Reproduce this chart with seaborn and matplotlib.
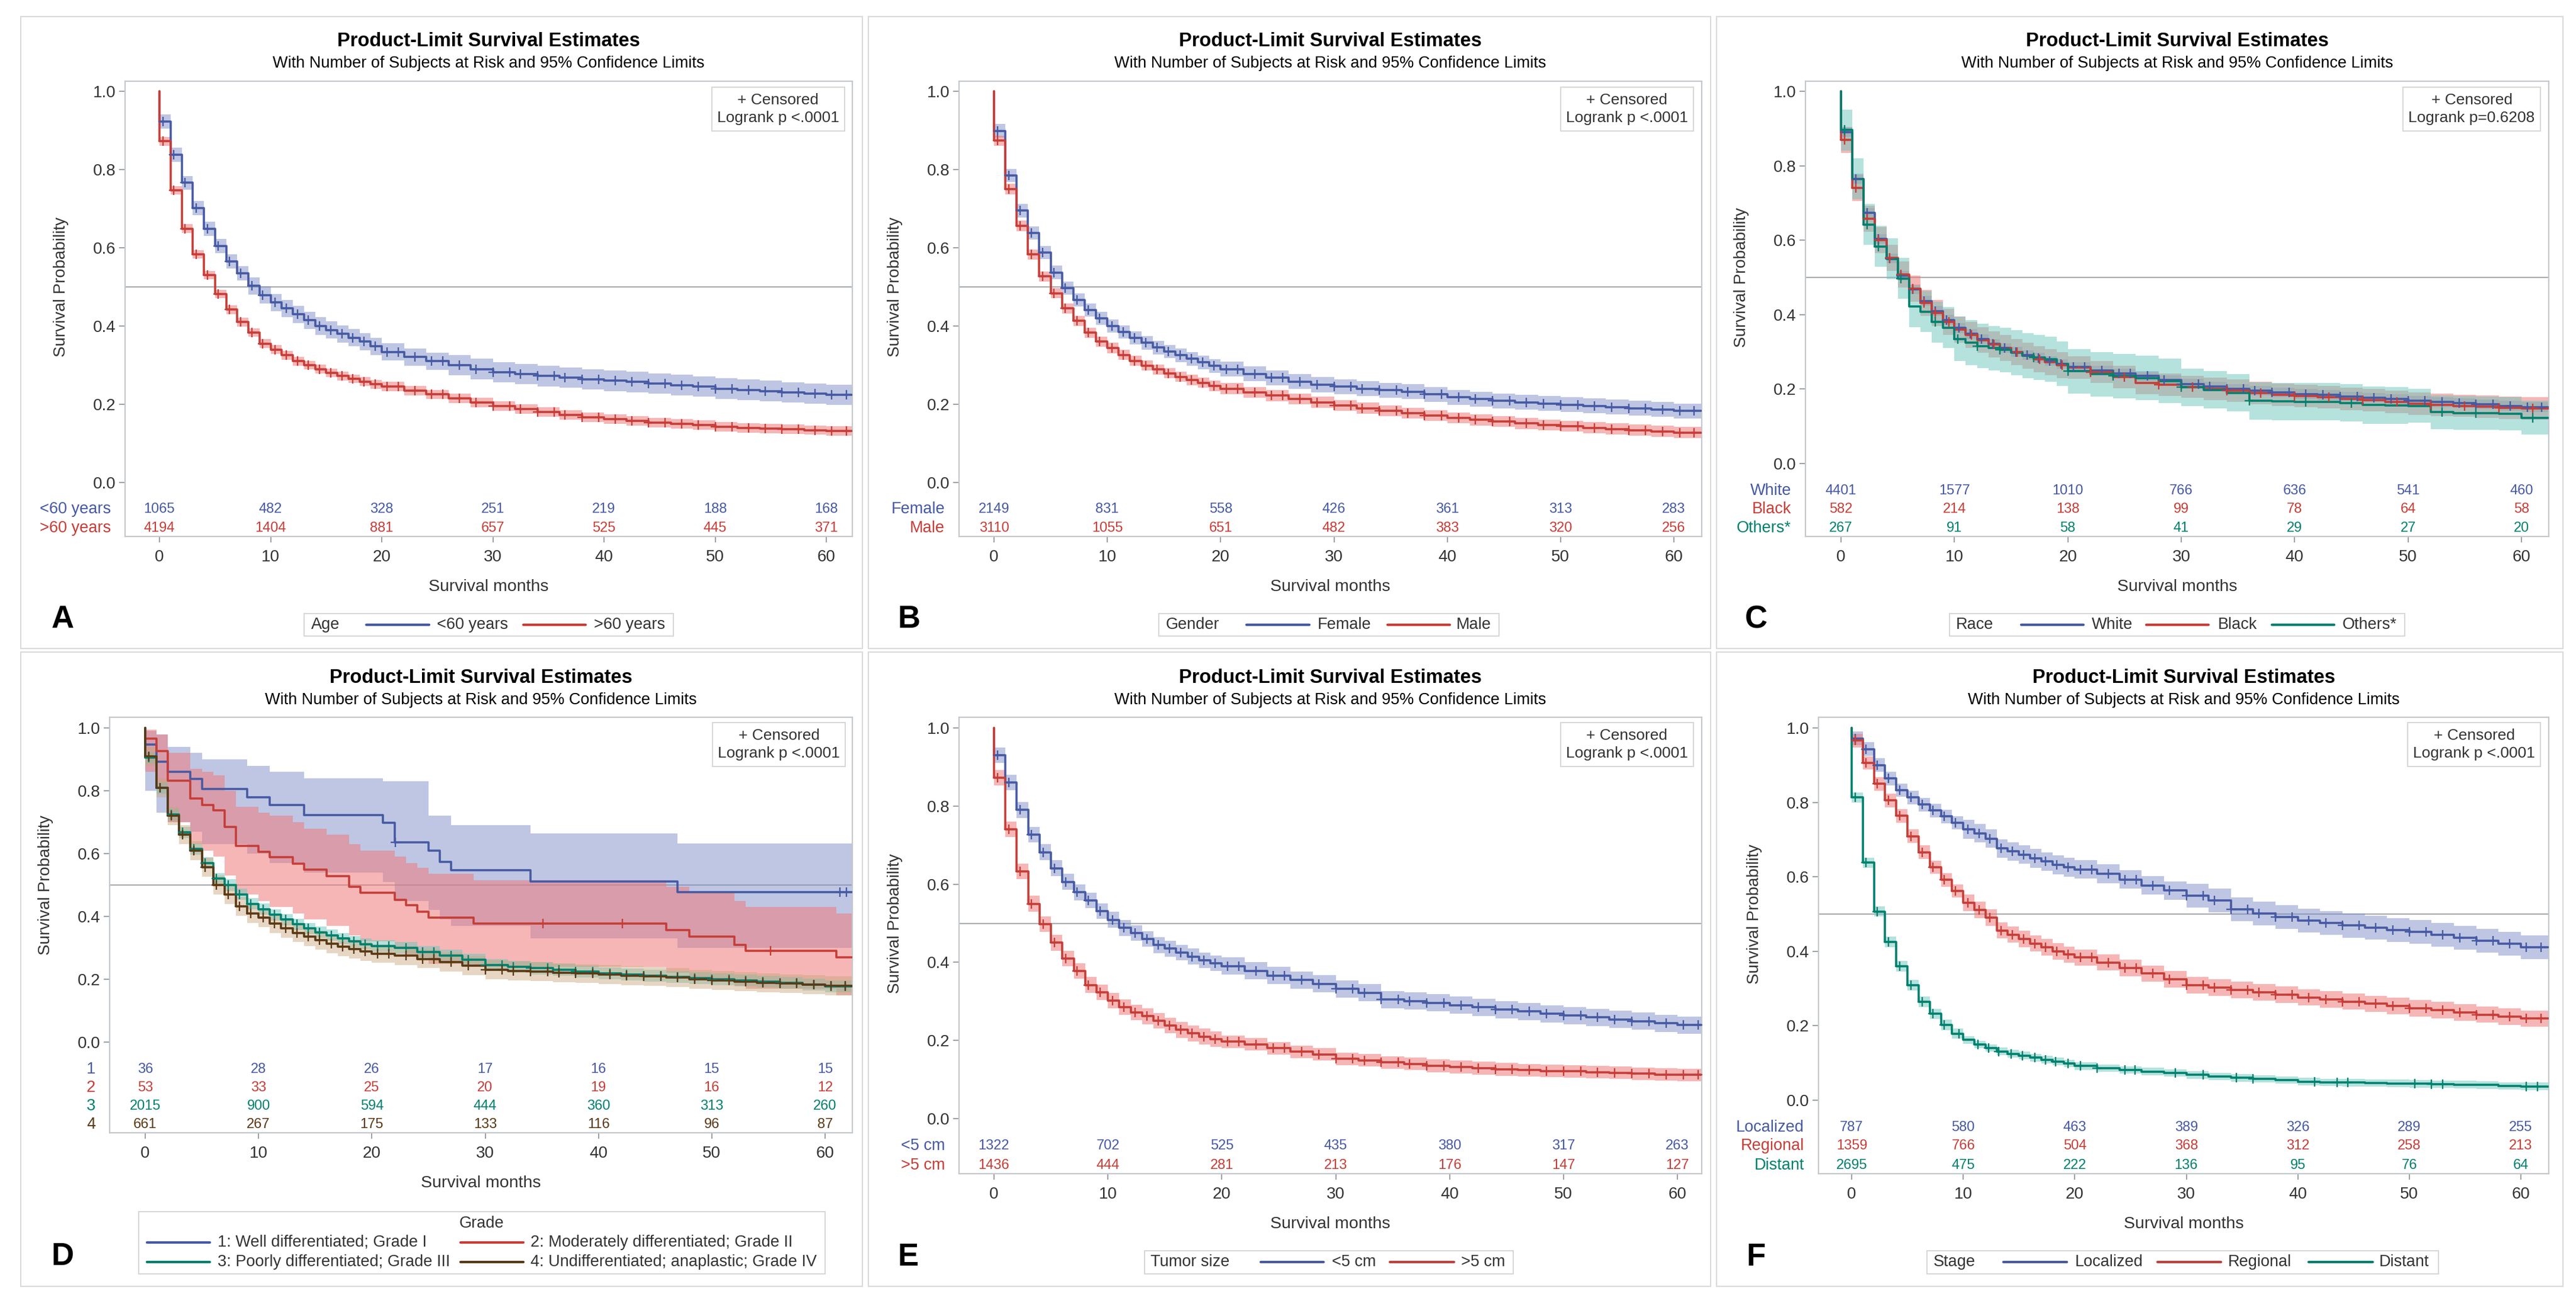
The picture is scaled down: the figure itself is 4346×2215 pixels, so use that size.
import numpy as np
import matplotlib
matplotlib.use("Agg")
import matplotlib.pyplot as plt
import seaborn as sns
from matplotlib.lines import Line2D
from matplotlib.patches import Rectangle

W, H = 4346, 2215

sns.set_style("white")
plt.rcParams["font.family"] = ["Liberation Sans", "DejaVu Sans"]

# ------------------------------------------------------------------
# Data
# ------------------------------------------------------------------
# survival months at which the step values below start
GRID = [0, 1, 2, 3, 4, 5, 6, 7, 8, 9, 10, 11, 12, 13, 14, 15, 16, 17, 18, 19, 20,
        22, 24, 26, 28, 30, 32, 34, 36, 38, 40, 42, 44, 46, 48, 50, 52, 54, 56, 58, 60]
RISK_T = [0, 10, 20, 30, 40, 50, 60]

# A - Age
A_lt60 = [.923, .838, .766, .702, .648, .605, .565, .535, .503, .479, .46, .445, .43, .415, .40, .39, .38, .37, .36, .348, .334,
          .321, .31, .30, .29, .282, .277, .272, .268, .264, .26, .257, .253, .249, .245, .24, .237, .234, .23, .227, .224]
A_gt60 = [.872, .747, .649, .583, .53, .482, .442, .41, .383, .355, .34, .325, .31, .30, .29, .28, .272, .265, .258, .251, .245,
          .235, .225, .215, .205, .195, .188, .18, .173, .167, .162, .157, .153, .15, .147, .143, .14, .138, .136, .134, .132]
A_risk_lt60 = [1065, 482, 328, 251, 219, 188, 168]
A_risk_gt60 = [4194, 1404, 881, 657, 525, 445, 371]

# B - Gender
B_female = [.899, .785, .695, .638, .588, .537, .497, .467, .441, .42, .40, .385, .37, .357, .345, .335, .325, .316, .307, .298, .29,
            .278, .268, .258, .25, .245, .24, .236, .232, .225, .218, .213, .209, .205, .202, .199, .196, .193, .19, .187, .183]
B_male = [.874, .75, .656, .583, .527, .484, .445, .413, .383, .36, .344, .326, .311, .299, .289, .279, .27, .262, .255, .247, .24,
          .23, .222, .214, .205, .197, .19, .183, .177, .171, .165, .16, .156, .151, .147, .144, .14, .137, .134, .131, .128]
B_risk_female = [2149, 831, 558, 426, 361, 313, 283]
B_risk_male = [3110, 1055, 651, 482, 383, 320, 256]

# C - Race
C_white = [.89, .765, .674, .603, .551, .505, .468, .437, .41, .386, .364, .348, .334, .321, .31, .30, .291, .284, .276, .268, .26,
           .25, .242, .235, .225, .214, .207, .201, .196, .191, .187, .184, .18, .177, .173, .169, .165, .162, .159, .155, .152]
C_black = [.869, .74, .657, .60, .553, .508, .469, .432, .405, .38, .36, .345, .332, .32, .31, .30, .29, .28, .272, .265, .258,
           .246, .232, .216, .212, .206, .201, .196, .19, .185, .181, .178, .174, .17, .166, .161, .158, .155, .153, .15, .148]
C_others = [.896, .765, .642, .583, .55, .497, .422, .408, .38, .365, .335, .325, .316, .31, .305, .298, .29, .285, .28, .268, .248,
            .24, .235, .23, .222, .205, .198, .19, .168, .167, .166, .166, .163, .157, .156, .155, .138, .136, .135, .134, .123]
C_risk_white = [4401, 1577, 1010, 766, 636, 541, 460]
C_risk_black = [582, 214, 138, 99, 78, 64, 58]
C_risk_others = [267, 91, 58, 41, 29, 27, 20]

# D - Grade (grades 1 and 2 have their own event times and wide limits)
D_g1_t = [0, 1, 2, 4, 5, 9, 11, 14, 21, 22, 25, 26, 27, 34, 47]
D_g1 = [.947, .892, .86, .838, .805, .779, .755, .723, .699, .636, .609, .573, .547, .511, .478]
D_g1_lo = [.80, .73, .70, .67, .63, .60, .57, .54, .51, .45, .42, .39, .37, .33, .30]
D_g1_hi = [.99, .98, .94, .92, .90, .88, .86, .84, .83, .83, .72, .72, .69, .665, .633]
D_g2_t = [0, 1, 2, 4, 5, 6, 7, 8, 10, 11, 13, 14, 16, 18, 19, 22, 23, 24, 25, 29, 46, 48, 52, 53, 61]
D_g2 = [.966, .926, .833, .775, .755, .738, .684, .625, .605, .589, .567, .55, .528, .495, .475, .453, .435, .415, .397, .377,
        .357, .335, .309, .29, .27]
D_g2_lo = [.86, .81, .70, .63, .61, .59, .53, .47, .45, .43, .41, .39, .37, .34, .32, .30, .28, .27, .25, .24, .22, .20, .18, .17, .15]
D_g2_hi = [.995, .98, .92, .87, .86, .85, .80, .75, .73, .72, .70, .68, .66, .63, .61, .59, .57, .555, .535, .515, .495, .475,
           .45, .43, .41]
D_g3 = [.905, .809, .725, .667, .615, .57, .52, .50, .47, .44, .423, .405, .39, .375, .362, .35, .34, .33, .32, .312, .305,
        .30, .287, .276, .263, .245, .24, .235, .23, .225, .219, .215, .211, .207, .203, .20, .196, .192, .188, .183, .178]
D_g4 = [.91, .81, .72, .66, .61, .557, .50, .47, .432, .409, .396, .378, .362, .348, .335, .324, .313, .304, .296, .288, .282,
        .275, .265, .255, .243, .23, .227, .224, .221, .218, .215, .212, .209, .205, .20, .196, .192, .189, .186, .183, .18]
D_risk_g1 = [36, 28, 26, 17, 16, 15, 15]
D_risk_g2 = [53, 33, 25, 20, 19, 16, 12]
D_risk_g3 = [2015, 900, 594, 444, 360, 313, 260]
D_risk_g4 = [661, 267, 175, 133, 116, 96, 87]

# E - Tumor size
E_lt5 = [.93, .86, .79, .727, .682, .641, .606, .579, .558, .531, .509, .488, .475, .46, .444, .435, .425, .415, .405, .398, .39,
         .378, .366, .355, .345, .332, .322, .305, .301, .296, .29, .285, .279, .274, .268, .264, .259, .254, .249, .244, .239]
E_gt5 = [.873, .741, .633, .55, .498, .45, .41, .378, .342, .323, .302, .285, .272, .262, .25, .238, .227, .218, .21, .203, .197,
         .19, .18, .171, .164, .153, .149, .144, .14, .135, .132, .129, .126, .124, .122, .121, .119, .117, .115, .113, .112]
E_risk_lt5 = [1322, 702, 525, 435, 380, 317, 263]
E_risk_gt5 = [1436, 444, 281, 213, 176, 147, 127]

# F - Stage
F_loc = [.972, .943, .90, .864, .833, .813, .794, .778, .762, .745, .728, .717, .703, .676, .668, .66, .65, .641, .632, .626, .62,
         .608, .593, .577, .563, .549, .536, .513, .502, .492, .482, .476, .469, .463, .457, .452, .444, .436, .428, .42, .411]
F_reg = [.966, .906, .85, .805, .764, .709, .666, .626, .592, .562, .53, .511, .49, .456, .445, .433, .421, .411, .40, .391, .383,
         .37, .355, .34, .325, .309, .303, .296, .29, .283, .276, .271, .265, .259, .253, .247, .242, .236, .23, .225, .219]
F_dist = [.813, .638, .507, .425, .36, .309, .264, .232, .202, .179, .162, .15, .14, .131, .125, .12, .114, .109, .104, .099, .092,
          .086, .081, .077, .073, .068, .064, .06, .057, .054, .05, .048, .047, .046, .045, .044, .043, .042, .041, .038, .037]
F_risk_loc = [787, 580, 463, 389, 326, 289, 255]
F_risk_reg = [1359, 766, 504, 368, 312, 258, 213]
F_risk_dist = [2695, 475, 222, 136, 95, 76, 64]

# half width of the 95% band, as (from month, width) steps
ci_A1 = [(0, .018), (8, .022), (25, .026)]
ci_A2 = [(0, .011), (20, .012)]
ci_B1 = [(0, .017), (20, .019)]
ci_B2 = [(0, .013), (20, .014)]
ci_C1 = [(0, .013)]
ci_C2 = [(0, .035), (20, .03)]
ci_C3 = [(0, .055), (10, .06), (30, .05), (50, .045)]
ci_D3 = [(0, .018), (20, .019)]
ci_D4 = [(0, .03)]
ci_E1 = [(0, .02), (20, .022)]
ci_E2 = [(0, .02), (20, .016)]
ci_F1 = [(0, .018), (10, .025), (30, .032)]
ci_F2 = [(0, .018), (10, .022)]
ci_F3 = [(0, .014), (10, .01)]

# censoring times (months)
cens_dense = [0.3, 1.3, 2.3, 3.3, 4.3, 5.3, 6.3, 7.3, 8.3, 9.3, 10.4, 11.4, 12.4, 13.4, 14.4, 15.4, 16.4, 17.4, 18.4,
              19.4, 20.5, 21.5, 23, 24.5, 25.5, 27, 28.5, 30, 31.5, 32.5, 34, 35.5, 36.5, 38, 39.5, 41, 42.5, 44,
              45.5, 47, 48.5, 50, 51.5, 53, 54.5, 56, 57.5, 59, 60.5, 61.8]
cens_mid = [0.3, 1.3, 2.3, 3.3, 4.3, 5.3, 6.3, 7.3, 8.3, 9.5, 11.5, 13.5, 15.5, 17.5, 19.5, 22, 25, 28, 31, 34, 37,
            40, 43, 46, 49, 52, 55, 58, 61]
cens_C3 = [0.3, 2.3, 3.3, 5.3, 8.3, 10.3, 12, 14, 17, 20, 24, 30, 36, 41, 45, 53, 56, 61]
cens_D1 = [22.1, 61.3, 61.9]
cens_D2 = [35.1, 42.1, 55.2]
cens_F3 = [0.3, 1.3, 2.3, 3.3, 4.3, 5.3, 6.3, 7.3, 8.3, 9.6, 11.3, 12.3, 13.2, 14.3, 15.3, 16.4, 17.4, 18.3,
           19.4, 20.5, 22, 24.5, 25.4, 29, 31.5, 34.5, 36, 41.5, 43.5, 44.5, 50.5, 52, 53, 60.5, 61.5]

# ------------------------------------------------------------------
# Styles
# ------------------------------------------------------------------
COL = {"blue": "#4659a3", "red": "#c63d37", "teal": "#00806e", "brown": "#5b3814"}
FILL = {"blue": ("#7f8fc8", .5), "red": ("#ef7b7b", .55), "teal": ("#6cc6bd", .5), "brown": ("#c9a57a", .45)}
GRAY = "#c4c8cc"
TXT = "#333333"

fig = plt.figure(figsize=(W / 100, H / 100), dpi=100)


def fx(px):
    return px / W


def fy(py):
    return 1 - py / H


def step_at(times, vals, t):
    i = np.searchsorted(times, t, side="right") - 1
    return np.asarray(vals)[np.clip(i, 0, None)]


def curve(times, surv, color, censor, risk, label, ci=None, lo=None, hi=None):
    return dict(times=times, surv=surv, color=color, censor=censor, risk=risk,
                label=label, ci=ci, lo=lo, hi=hi)


def draw_panel(p):
    left, top, right, bottom = p["box"]
    ax = fig.add_axes([fx(left), fy(bottom), (right - left) / W, (bottom - top) / H])
    x0, x60, y1, y0 = p["x0"], p["x60"], p["y1"], p["y0"]
    tx = lambda px: (px - x0) / (x60 - x0) * 60
    vy = lambda py: (y0 - py) / (y0 - y1)
    ax.set_xlim(tx(left), tx(right))
    ax.set_ylim(vy(bottom), vy(top))
    t_end = tx(right) - 0.05

    ax.axhline(0.5, color="#a9adb1", lw=1.6, zorder=1)

    for c in p["curves"]:
        times = np.asarray(c["times"], float)
        surv = np.asarray(c["surv"], float)
        bx = np.append(times, t_end)
        if c["ci"] is not None:
            st = [s[0] for s in c["ci"]]
            sw = [s[1] for s in c["ci"]]
            w = step_at(st, sw, times)
            lo, hi = surv - w, surv + w
        else:
            lo, hi = np.asarray(c["lo"]), np.asarray(c["hi"])
        fc, al = FILL[c["color"]]
        ax.fill_between(bx, np.append(lo, lo[-1]), np.append(hi, hi[-1]), step="post",
                        color=fc, alpha=al, lw=0, zorder=2)

    for c in p["curves"]:
        times = np.asarray(c["times"], float)
        surv = np.asarray(c["surv"], float)
        xs = np.concatenate([[0.0], times, [t_end]])
        ys = np.concatenate([[1.0], surv, [surv[-1]]])
        sns.lineplot(x=xs, y=ys, ax=ax, color=COL[c["color"]], lw=2.6, sort=False,
                     estimator=None, drawstyle="steps-post", legend=False, zorder=3)
        ct = np.asarray(c["censor"], float)
        ax.plot(ct, step_at(times, surv, ct), ls="none", marker="+", ms=12, mew=1.7,
                color=COL[c["color"]], zorder=4)

    # at-risk table inside the plot area
    for c, ry in zip(p["curves"], p["rows"]):
        for t, n in zip(RISK_T, c["risk"]):
            ax.text(t, vy(ry), str(n), ha="center", va="center", fontsize=17, color=COL[c["color"]])
        fig.text(fx(left - 24), fy(ry), c["label"], ha="right", va="center", fontsize=19.5,
                 color=COL[c["color"]])

    ax.set_xticks(RISK_T)
    ax.set_yticks([0, .2, .4, .6, .8, 1.0])
    ax.set_yticklabels(["0.0", "0.2", "0.4", "0.6", "0.8", "1.0"])
    ax.tick_params(axis="x", direction="out", length=7, width=1.2, color="#8a8e92",
                   labelsize=20, labelcolor=TXT, pad=9, bottom=True)
    ax.tick_params(axis="y", direction="out", length=7, width=1.2, color="#8a8e92",
                   labelsize=20, labelcolor=TXT, pad=4, left=True)
    for s in ax.spines.values():
        s.set_color(GRAY)
        s.set_linewidth(1.6)
    ax.set_xlabel("")
    ax.set_ylabel("")

    cx = (left + right) / 2
    fig.text(fx(cx), fy(p["title_y"]), "Product-Limit Survival Estimates", ha="center", va="center",
             fontsize=23.5, fontweight="bold", color="black")
    fig.text(fx(cx), fy(p["title_y"] + 37), "With Number of Subjects at Risk and 95% Confidence Limits",
             ha="center", va="center", fontsize=19.5, color="black")
    fig.text(fx(cx), fy(bottom + 85), "Survival months", ha="center", va="center", fontsize=20.5, color=TXT)
    fig.text(fx(left - 108), fy((y0 + y1) / 2), "Survival Probability", rotation=90, ha="center",
             va="center", fontsize=20, color=TXT)
    fig.text(fx(p["letter"][1]), fy(p["letter"][2]), p["letter"][0], ha="center", va="center",
             fontsize=38, fontweight="bold", color="black")
    fig.text(fx(p["pbox"][0]), fy(p["pbox"][1]), "+ Censored\n" + p["pval"], ha="center", va="center",
             fontsize=19, color=TXT, linespacing=1.35, multialignment="center",
             bbox=dict(boxstyle="square,pad=0.35", fc="white", ec="#d6d6d6", lw=1.4))

    fl, ft, fr, fb = p["frame"]
    fig.patches.append(Rectangle((fx(fl), fy(fb)), (fr - fl) / W, (fb - ft) / H, transform=fig.transFigure,
                                 fill=False, ec="#d9d9d9", lw=1.5))

    lg = p["legend"]
    bx1, by1, bx2, by2 = lg["box"]
    fig.patches.append(Rectangle((fx(bx1), fy(by2)), (bx2 - bx1) / W, (by2 - by1) / H,
                                 transform=fig.transFigure, fill=False, ec="#d6d6d6", lw=1.4))
    if "title_c" in lg:
        fig.text(fx(lg["title_c"][0]), fy(lg["title_c"][1]), lg["title"], ha="center", va="center",
                 fontsize=19.5, color=TXT)
    else:
        fig.text(fx(lg["title_x"]), fy((by1 + by2) / 2), lg["title"], ha="left", va="center",
                 fontsize=19.5, color=TXT)
    for (lx1, lx2, ltx, ly), c, name in zip(lg["items"], p["curves"], lg["names"]):
        fig.lines.append(Line2D([fx(lx1), fx(lx2)], [fy(ly), fy(ly)], transform=fig.transFigure,
                                color=COL[c["color"]], lw=3))
        fig.text(fx(ltx), fy(ly), name, ha="left", va="center", fontsize=19.5, color=TXT)


panels = [
    dict(box=(211, 137, 1438, 905), x0=269, x60=1394, y1=154, y0=814, rows=[859, 891],
         frame=(35, 28, 1455, 1094), title_y=70, letter=("A", 106, 1045), pbox=(1313, 184),
         pval="Logrank p <.0001",
         curves=[curve(GRID, A_lt60, "blue", cens_dense, A_risk_lt60, "<60 years", ci=ci_A1),
                 curve(GRID, A_gt60, "red", cens_dense, A_risk_gt60, ">60 years", ci=ci_A2)],
         legend=dict(box=(513, 1035, 1136, 1073), title="Age", title_x=525,
                     items=[(618, 724, 737, 1054), (883, 988, 1002, 1054)],
                     names=["<60 years", ">60 years"])),
    dict(box=(1618, 137, 2871, 905), x0=1677, x60=2824, y1=154, y0=814, rows=[859, 891],
         frame=(1465, 28, 2886, 1094), title_y=70, letter=("B", 1534, 1045), pbox=(2745, 184),
         pval="Logrank p <.0001",
         curves=[curve(GRID, B_female, "blue", cens_dense, B_risk_female, "Female", ci=ci_B1),
                 curve(GRID, B_male, "red", cens_dense, B_risk_male, "Male", ci=ci_B2)],
         legend=dict(box=(1955, 1035, 2529, 1073), title="Gender", title_x=1967,
                     items=[(2103, 2209, 2223, 1054), (2341, 2446, 2457, 1054)],
                     names=["Female", "Male"])),
    dict(box=(3046, 137, 4300, 905), x0=3106, x60=4254, y1=154, y0=782, rows=[828, 859, 891],
         frame=(2896, 28, 4324, 1094), title_y=70, letter=("C", 2963, 1045), pbox=(4170, 184),
         pval="Logrank p=0.6208",
         curves=[curve(GRID, C_white, "blue", cens_dense, C_risk_white, "White", ci=ci_C1),
                 curve(GRID, C_black, "red", cens_mid, C_risk_black, "Black", ci=ci_C2),
                 curve(GRID, C_others, "teal", cens_C3, C_risk_others, "Others*", ci=ci_C3)],
         legend=dict(box=(3289, 1035, 4057, 1073), title="Race", title_x=3300,
                     items=[(3410, 3515, 3529, 1054), (3621, 3726, 3742, 1054), (3833, 3938, 3952, 1054)],
                     names=["White", "Black", "Others*"])),
    dict(box=(185, 1210, 1438, 1911), x0=245, x60=1392, y1=1228, y0=1758, rows=[1804, 1835, 1866, 1897],
         frame=(35, 1100, 1455, 2170), title_y=1144, letter=("D", 106, 2120), pbox=(1314, 1256),
         pval="Logrank p <.0001",
         curves=[curve(D_g1_t, D_g1, "blue", cens_D1, D_risk_g1, "1", lo=D_g1_lo, hi=D_g1_hi),
                 curve(D_g2_t, D_g2, "red", cens_D2, D_risk_g2, "2", lo=D_g2_lo, hi=D_g2_hi),
                 curve(GRID, D_g3, "teal", cens_dense, D_risk_g3, "3", ci=ci_D3),
                 curve(GRID, D_g4, "brown", cens_dense, D_risk_g4, "4", ci=ci_D4)],
         legend=dict(box=(234, 2044, 1392, 2149), title="Grade", title_c=(812, 2064),
                     items=[(248, 354, 367, 2096), (777, 883, 895, 2096),
                            (248, 354, 367, 2129), (777, 883, 895, 2129)],
                     names=["1: Well differentiated; Grade I", "2: Moderately differentiated; Grade II",
                            "3: Poorly differentiated; Grade III",
                            "4: Undifferentiated; anaplastic; Grade IV"])),
    dict(box=(1618, 1210, 2871, 1980), x0=1677, x60=2830, y1=1228, y0=1887, rows=[1933, 1966],
         frame=(1465, 1100, 2886, 2170), title_y=1144, letter=("E", 1532, 2121), pbox=(2745, 1256),
         pval="Logrank p <.0001",
         curves=[curve(GRID, E_lt5, "blue", cens_dense, E_risk_lt5, "<5 cm", ci=ci_E1),
                 curve(GRID, E_gt5, "red", cens_dense, E_risk_gt5, ">5 cm", ci=ci_E2)],
         legend=dict(box=(1931, 2110, 2553, 2149), title="Tumor size", title_x=1941,
                     items=[(2127, 2233, 2247, 2129), (2345, 2453, 2465, 2129)],
                     names=["<5 cm", ">5 cm"])),
    dict(box=(3068, 1210, 4300, 1980), x0=3124, x60=4253, y1=1228, y0=1856, rows=[1902, 1933, 1966],
         frame=(2896, 1100, 4324, 2170), title_y=1144, letter=("F", 2963, 2121), pbox=(4174, 1256),
         pval="Logrank p <.0001",
         curves=[curve(GRID, F_loc, "blue", cens_dense, F_risk_loc, "Localized", ci=ci_F1),
                 curve(GRID, F_reg, "red", cens_dense, F_risk_reg, "Regional", ci=ci_F2),
                 curve(GRID, F_dist, "teal", cens_F3, F_risk_dist, "Distant", ci=ci_F3)],
         legend=dict(box=(3251, 2110, 4114, 2149), title="Stage", title_x=3262,
                     items=[(3380, 3487, 3501, 2129), (3640, 3747, 3759, 2129), (3895, 4003, 4014, 2129)],
                     names=["Localized", "Regional", "Distant"])),
]

for p in panels:
    draw_panel(p)

fig.savefig("out.png", dpi=100, facecolor="white")
